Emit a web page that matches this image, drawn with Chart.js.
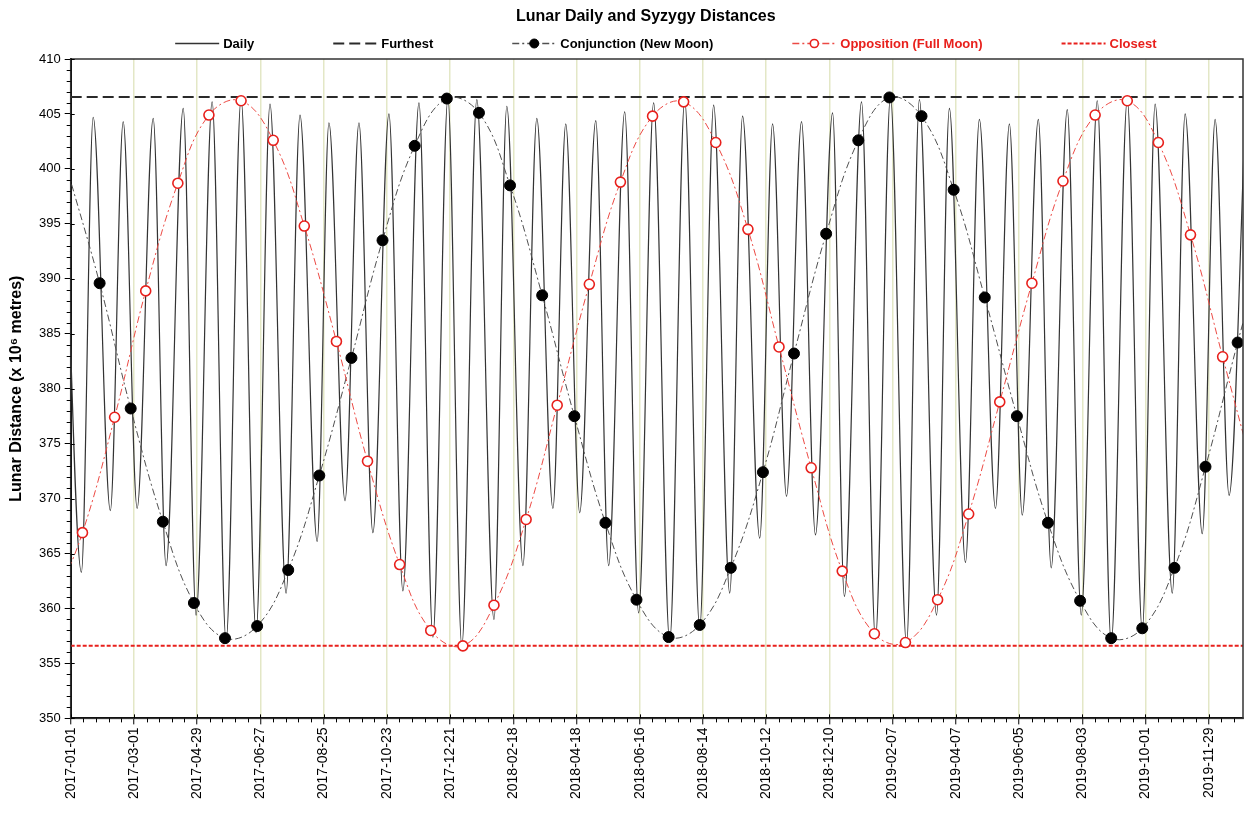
<!DOCTYPE html>
<html>
<head>
<meta charset="utf-8">
<script src="https://cdn.jsdelivr.net/npm/chart.js@4.4.0/dist/chart.umd.min.js"></script>
<style>
  html, body { margin: 0; padding: 0; background: #ffffff; }
  #wrap { width: 1245px; height: 813px; }
</style>
</head>
<body>
<div id="wrap"><canvas id="c" width="1245" height="813"></canvas></div>
<script>
// ---------------- data ----------------
const chartTitle = 'Lunar Daily and Syzygy Distances';
const yAxisTitle = 'Lunar Distance (x 10\u2076 metres)';
const seriesNames = ['Daily', 'Furthest', 'Conjunction (New Moon)', 'Opposition (Full Moon)', 'Closest'];

const xStartDate = '2017-01-01';
const xEndDate = '2019-12-31';

const tickLabels = ['2017-01-01','2017-03-01','2017-04-29','2017-06-27','2017-08-25','2017-10-23',
  '2017-12-21','2018-02-18','2018-04-18','2018-06-16','2018-08-14','2018-10-12','2018-12-10',
  '2019-02-07','2019-04-07','2019-06-05','2019-08-03','2019-10-01','2019-11-29'];

// Daily distance: apogee / perigee turning points of the daily curve
const dailyDates = ['2016-12-25','2017-01-11','2017-01-22','2017-02-07','2017-02-19','2017-03-04',
  '2017-03-19','2017-03-31','2017-04-16','2017-04-28','2017-05-13','2017-05-26','2017-06-09',
  '2017-06-23','2017-07-06','2017-07-21','2017-08-03','2017-08-19','2017-08-30','2017-09-14',
  '2017-09-27','2017-10-10','2017-10-25','2017-11-07','2017-11-22','2017-12-05','2017-12-19',
  '2018-01-01','2018-01-15','2018-01-31','2018-02-12','2018-02-27','2018-03-12','2018-03-27',
  '2018-04-08','2018-04-21','2018-05-06','2018-05-18','2018-06-02','2018-06-15','2018-06-29',
  '2018-07-14','2018-07-28','2018-08-11','2018-08-24','2018-09-08','2018-09-20','2018-10-06',
  '2018-10-18','2018-10-31','2018-11-14','2018-11-27','2018-12-13','2018-12-24','2019-01-09',
  '2019-01-22','2019-02-05','2019-02-20','2019-03-04','2019-03-20','2019-04-01','2019-04-16',
  '2019-04-29','2019-05-14','2019-05-27','2019-06-08','2019-06-23','2019-07-05','2019-07-20',
  '2019-08-02','2019-08-17','2019-08-30','2019-09-14','2019-09-28','2019-10-10','2019-10-26',
  '2019-11-07','2019-11-23','2019-12-05','2019-12-18','2020-01-02'];
const dailyValues = [404.9,363.3,404.7,368.9,404.3,369.1,
  404.6,363.9,405.5,359.4,406.1,357.0,406.4,
  357.8,405.9,361.4,404.9,366.1,404.2,369.8,
  404.2,366.9,405.0,361.6,406.0,357.4,406.4,
  356.6,406.3,359.0,405.7,363.9,404.6,369.1,
  404.1,368.7,404.4,363.9,405.2,359.6,406.0,
  357.0,406.3,358.2,405.8,361.4,404.8,366.4,
  404.1,370.2,404.3,366.7,405.1,361.1,406.1,
  357.2,406.55,356.75,406.3,359.4,405.5,364.2,
  404.5,369.1,404.1,368.5,404.5,363.7,405.4,
  359.4,406.2,356.9,406.3,358.0,405.9,361.4,
  405.0,366.8,404.5,370.3,404.4];

// Conjunction (New Moon)
const newMoonDates = ['2016-12-29','2017-01-28','2017-02-26','2017-03-28','2017-04-26','2017-05-25',
  '2017-06-24','2017-07-23','2017-08-21','2017-09-20','2017-10-19','2017-11-18','2017-12-18',
  '2018-01-17','2018-02-15','2018-03-17','2018-04-16','2018-05-15','2018-06-13','2018-07-13',
  '2018-08-11','2018-09-09','2018-10-09','2018-11-07','2018-12-07','2019-01-06','2019-02-04',
  '2019-03-06','2019-04-05','2019-05-04','2019-06-03','2019-07-02','2019-08-01','2019-08-30',
  '2019-09-28','2019-10-28','2019-11-26','2019-12-26','2020-01-24'];
const newMoonValues = [399.9,389.6,378.2,367.9,360.5,357.3,
  358.4,363.5,372.1,382.8,393.5,402.1,406.4,
  405.1,398.5,388.5,377.5,367.8,360.8,357.4,
  358.5,363.7,372.4,383.2,394.1,402.6,406.5,
  404.8,398.1,388.3,377.5,367.8,360.7,357.3,
  358.2,363.7,372.9,384.2,394.5];

// Opposition (Full Moon)
const fullMoonDates = ['2016-12-14','2017-01-12','2017-02-11','2017-03-12','2017-04-11','2017-05-10',
  '2017-06-09','2017-07-09','2017-08-07','2017-09-06','2017-10-05','2017-11-04','2017-12-03',
  '2018-01-02','2018-01-31','2018-03-02','2018-03-31','2018-04-30','2018-05-29','2018-06-28',
  '2018-07-27','2018-08-26','2018-09-25','2018-10-24','2018-11-23','2018-12-22','2019-01-21',
  '2019-02-19','2019-03-21','2019-04-19','2019-05-18','2019-06-17','2019-07-16','2019-08-15',
  '2019-09-14','2019-10-13','2019-11-12','2019-12-12','2020-01-10'];
const fullMoonValues = [359.9,366.9,377.4,388.9,398.7,404.9,
  406.2,402.6,394.8,384.3,373.4,364.0,358.0,
  356.6,360.3,368.1,378.5,389.5,398.8,404.8,
  406.1,402.4,394.5,383.8,372.8,363.4,357.7,
  356.9,360.8,368.6,378.8,389.6,398.9,404.9,
  406.2,402.4,394.0,382.9,372.3];

const furthestValues = [406.55, 406.55];
const closestValues = [356.6, 356.6];
const yTickRange = [350, 410];

// ---------------- helpers ----------------
const DAY = 864e5;
const t0 = Date.parse(xStartDate + 'T00:00:00Z');
const dayIndex = s => (Date.parse(s + 'T00:00:00Z') - t0) / DAY;
const xMin = 0, xMax = dayIndex(xEndDate);
const pts = (dates, vals) => dates.map((d, i) => ({ x: dayIndex(d), y: vals[i] }));
const tickDays = tickLabels.map(dayIndex);
const FONT = "'Liberation Sans', Arial, Helvetica, sans-serif";
const RED = '#e8201c';

const inRange = ctx => {
  const r = ctx.raw; if (!r) return false;
  return r.x >= xMin && r.x <= xMax;
};

const datasets = [
  { label: seriesNames[3], data: pts(fullMoonDates, fullMoonValues), order: 0,
    borderColor: '#ec4a44', borderWidth: 1, borderDash: [7, 3, 2, 3], tension: 0.4,
    pointRadius: c => inRange(c) ? 5 : 0, pointBackgroundColor: '#ffffff',
    pointBorderColor: RED, pointBorderWidth: 1.6, legendMarker: 'ring' },
  { label: seriesNames[2], data: pts(newMoonDates, newMoonValues), order: 1,
    borderColor: '#505050', borderWidth: 1, borderDash: [7, 3, 2, 3], tension: 0.4,
    pointRadius: c => inRange(c) ? 5.5 : 0, pointBackgroundColor: '#000000',
    pointBorderColor: '#000000', pointBorderWidth: 1, legendMarker: 'dot' },
  { label: seriesNames[1], data: pts([xStartDate, xEndDate], furthestValues), order: 3,
    borderColor: '#2a2a2a', borderWidth: 2, borderDash: [11, 5], pointRadius: 0 },
  { label: seriesNames[4], data: pts([xStartDate, xEndDate], closestValues), order: 3,
    borderColor: RED, borderWidth: 2, borderDash: [4, 2], pointRadius: 0 },
  { label: seriesNames[0], data: pts(dailyDates, dailyValues), order: 9,
    borderColor: '#333333', borderWidth: 1.2, cubicInterpolationMode: 'monotone', pointRadius: 0 }
];

// ---------------- decorations: frame, minor ticks, title, legend ----------------
const decor = {
  id: 'decor',
  afterDraw(chart) {
    const { ctx, chartArea: a, scales: { x, y } } = chart;
    ctx.save();
    ctx.setLineDash([]);
    // frame
    ctx.strokeStyle = '#333333'; ctx.lineWidth = 1.5;
    ctx.strokeRect(a.left, a.top, a.right - a.left, a.bottom - a.top);
    // y ticks (minor outside, major inner part)
    ctx.strokeStyle = '#000000'; ctx.lineWidth = 1;
    for (let v = y.min; v <= y.max; v++) {
      const py = Math.round(y.getPixelForValue(v)) + 0.5;
      ctx.beginPath();
      if (v % 5 === 0) { ctx.moveTo(a.left, py); ctx.lineTo(a.left + 4, py); }
      else { ctx.moveTo(a.left - 4, py); ctx.lineTo(a.left, py); }
      ctx.stroke();
    }
    // x ticks
    x.ticks.forEach(t => {
      const px = Math.round(x.getPixelForValue(t.value)) + 0.5;
      ctx.beginPath(); ctx.moveTo(px, a.bottom); ctx.lineTo(px, a.bottom - 4); ctx.stroke();
    });
    const minorStep = (tickDays[1] - tickDays[0]) / 5;
    for (let k = 0; k * minorStep <= xMax + 0.01; k++) {
      if (k % 5 === 0) continue;
      const px = Math.round(x.getPixelForValue(k * minorStep)) + 0.5;
      ctx.beginPath(); ctx.moveTo(px, a.bottom); ctx.lineTo(px, a.bottom + 4); ctx.stroke();
    }
    // title
    const cx = (a.left + a.right) / 2;
    ctx.fillStyle = '#000000';
    ctx.font = 'bold 16px ' + FONT;
    ctx.textAlign = 'center'; ctx.textBaseline = 'middle';
    ctx.fillText(chartTitle, cx - 11, 17);
    // legend
    const order = [seriesNames[0], seriesNames[1], seriesNames[2], seriesNames[3], seriesNames[4]];
    const textColors = ['#000000', '#000000', '#000000', RED, RED];
    ctx.font = 'bold 13px ' + FONT;
    const sample = 44, gapText = 4, gapItem = 79, ly = 43;
    const widths = order.map(n => ctx.measureText(n).width);
    const total = widths.reduce((s, w) => s + sample + gapText + w, 0) + gapItem * (order.length - 1);
    let lx = cx + 9 - total / 2;
    order.forEach((name, i) => {
      const ds = chart.data.datasets.find(d => d.label === name);
      ctx.save();
      ctx.strokeStyle = ds.borderColor;
      ctx.lineWidth = Math.max(ds.borderWidth, 1.5);
      ctx.setLineDash(ds.borderDash || []);
      ctx.beginPath(); ctx.moveTo(lx, ly + 0.5); ctx.lineTo(lx + sample, ly + 0.5); ctx.stroke();
      ctx.setLineDash([]);
      if (ds.legendMarker) {
        ctx.beginPath(); ctx.arc(lx + sample / 2, ly + 0.5, ds.legendMarker === 'dot' ? 4.5 : 4, 0, Math.PI * 2);
        ctx.fillStyle = ds.pointBackgroundColor; ctx.fill();
        ctx.lineWidth = ds.pointBorderWidth; ctx.strokeStyle = ds.pointBorderColor; ctx.stroke();
      }
      ctx.restore();
      ctx.fillStyle = textColors[i];
      ctx.textAlign = 'left'; ctx.textBaseline = 'middle';
      ctx.fillText(name, lx + sample + gapText, ly + 1);
      lx += sample + gapText + widths[i] + gapItem;
    });
    ctx.restore();
  }
};

new Chart(document.getElementById('c'), {
  type: 'line',
  data: { datasets },
  plugins: [decor],
  options: {
    responsive: false,
    animation: false,
    devicePixelRatio: 1,
    parsing: true,
    layout: { padding: { top: 59, right: 2, bottom: 11, left: 2.8 } },
    plugins: { legend: { display: false }, title: { display: false }, tooltip: { enabled: false } },
    elements: { line: { fill: false } },
    scales: {
      x: {
        type: 'linear', min: xMin, max: xMax,
        afterBuildTicks: s => { s.ticks = tickDays.map(v => ({ value: v })); },
        ticks: {
          autoSkip: false, maxRotation: 90, minRotation: 90, padding: 3,
          color: '#000000', font: { family: FONT, size: 14 },
          callback: (v, i) => tickLabels[i]
        },
        grid: { display: true, drawOnChartArea: true, color: '#e3e7c6', lineWidth: 1.5,
                tickLength: 6, tickColor: '#000000', tickWidth: 1 },
        border: { display: true, color: '#000000', width: 2 }
      },
      y: {
        type: 'linear', min: yTickRange[0], max: yTickRange[1],
        ticks: { stepSize: 5, padding: 4, color: '#000000', font: { family: FONT, size: 13 } },
        grid: { display: true, drawOnChartArea: false, tickLength: 6, tickColor: '#000000', tickWidth: 1 },
        border: { display: true, color: '#000000', width: 2 },
        title: { display: true, text: yAxisTitle, color: '#000000',
                 font: { family: FONT, size: 16, weight: 'bold' }, padding: { top: 4, bottom: 9 } }
      }
    }
  }
});
</script>
</body>
</html>
